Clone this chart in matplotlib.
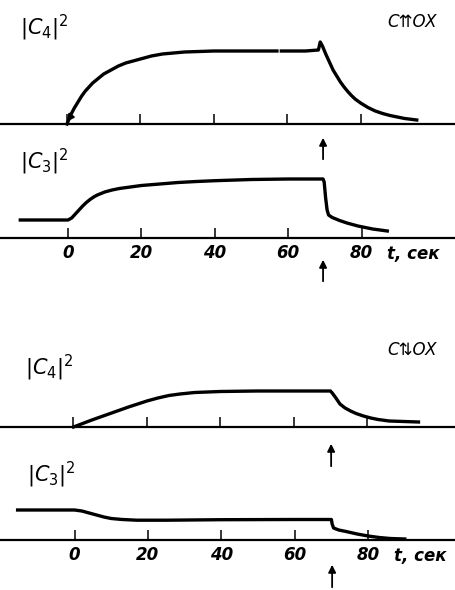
"""Two pairs of time traces |C4|^2 and |C3|^2 (scanned figure redrawn)."""

import numpy as np
from matplotlib import pyplot as plt

nan = np.nan

# upper pair (C upup OX)
c4a_t = [0, 1, 2, 3, 4, 5, 6, 7, 8, 9, 10, 12, 14, 16, 18, 20, 23, 26, 29, 32, 36, 40, 50, 57.2,
         nan, 58.4, 65, 68.5, 69, 69.6, 70.5, 71.5, 72.5, 73.5, 74.5, 75.5, 76.5, 77.5, 78.5, 80, 82, 84, 86,
         88, 90, 92, 95.3]
c4a_v = [0, 9, 16, 22, 28, 33, 37, 41, 44, 47, 50, 54, 58, 61, 63, 65, 68, 70, 71, 72, 72.5, 73, 73, 73,
         nan, 73, 73, 74, 82, 78, 70, 62, 54, 48, 42, 37, 32.5, 28.5, 25, 21, 16.5, 13, 10.5,
         8.5, 7, 5.5, 4]
c3a_t = [-13, -5, 0, 1, 2, 3, 4, 5, 6, 7, 8, 9, 10, 12, 14, 17, 20, 25, 30, 35, 40, 50, 60, 69.5,
         69.8, 70.2, 70.6, 71, 72, 74, 76, 79, 83, 87]
c3a_v = [18, 18, 18, 20, 24, 28, 32, 35.5, 38.5, 41, 43, 44.5, 46, 48, 49.5, 51, 52.5, 54, 55.5, 56.5, 57.3, 58.5, 59, 59,
         56, 40, 28, 23, 20.5, 17.5, 15, 12, 9, 7]

# lower pair (C updown OX)
c4b_t = [0, 5, 10, 15, 20, 23, 26, 29, 33, 40, 50, 70, 70.5, 71.5, 72.6, 74, 75.5, 77, 79, 81, 83, 86, 90, 94]
c4b_v = [0, 7, 13.5, 20, 26, 29, 31.5, 33, 34.5, 35.5, 36, 36, 34, 29, 23, 19, 16, 13.5, 11, 9, 7.5, 6, 5.5, 5]
c3b_t = [-15.5, 0, 2, 4, 6, 8, 10, 13, 17, 25, 40, 60, 70, 70.2, 70.6, 72, 74, 77, 80, 83, 86, 90]
c3b_v = [30, 30, 29, 27, 25, 23, 21.5, 20.5, 19.8, 19.8, 20.3, 20.5, 20.5, 16, 12, 10, 8.5, 6, 4, 2.5, 1.5, 1]

ticks = [0, 20, 40, 60, 80]
tick_labels = ['0', '20', '40', '60', '80']
arrow_t = [69.5, 70.2]

W, H = 455, 590
S = 3.67  # pixels per second

fig = plt.figure(figsize=(W / 100, H / 100), dpi=100)


def panel(top, bottom, base, x0, labels):
    ax = fig.add_axes([0, 1 - bottom / H, 1, (bottom - top) / H])
    ax.set_xlim(-x0 / S, (W - x0) / S)
    ax.set_ylim(-(bottom - base), base - top)
    for side in ['top', 'left', 'right']:
        ax.spines[side].set_visible(False)
    ax.spines['bottom'].set_position(('data', 0))
    ax.spines['bottom'].set_linewidth(1.6)
    ax.set_yticks([])
    ax.set_xticks(ticks)
    ax.tick_params(axis='x', direction='in', length=7, width=1.1, pad=4)
    if labels:
        ax.set_xticklabels(tick_labels, fontsize=12, fontstyle='italic', fontweight='bold')
    else:
        ax.set_xticklabels([])
    ax.patch.set_visible(False)
    return ax


ax1 = panel(0, 140, 124, 67, False)
ax2 = panel(140, 300, 238, 68, True)
ax3 = panel(300, 450, 427, 73.5, False)
ax4 = panel(450, 590, 540, 74.5, True)

lw = 2.4
ax1.plot(c4a_t, c4a_v, color='black', lw=lw, solid_joinstyle='round')
ax2.plot(c3a_t, c3a_v, color='black', lw=lw, solid_joinstyle='round')
ax3.plot(c4b_t, c4b_v, color='black', lw=lw, solid_joinstyle='round')
ax4.plot(c3b_t, c3b_v, color='black', lw=lw, solid_joinstyle='round')

# small arrow head at the start of the upper curve
ax1.annotate('', xy=(-0.5, 0), xytext=(1.5, 10),
             arrowprops=dict(arrowstyle='-|>', color='black', lw=1.5, mutation_scale=10))

# switching arrows
arr = dict(arrowstyle='-|>', color='black', lw=1.3, mutation_scale=11)
ax2.annotate('', xy=(arrow_t[0], 103), xytext=(arrow_t[0], 76), arrowprops=arr, annotation_clip=False)
ax2.annotate('', xy=(arrow_t[0], -19), xytext=(arrow_t[0], -46), arrowprops=arr, annotation_clip=False)
ax3.annotate('', xy=(arrow_t[1], -14), xytext=(arrow_t[1], -42), arrowprops=arr, annotation_clip=False)
ax4.annotate('', xy=(arrow_t[1], -22), xytext=(arrow_t[1], -50), arrowprops=arr, annotation_clip=False)

# labels
lab = dict(fontsize=15, color='black', ha='left', va='center')
fig.text(20 / W, 1 - 28 / H, r'$|C_4|^2$', **lab)
fig.text(20 / W, 1 - 162 / H, r'$|C_3|^2$', **lab)
fig.text(25 / W, 1 - 368 / H, r'$|C_4|^2$', **lab)
fig.text(27 / W, 1 - 475 / H, r'$|C_3|^2$', **lab)

name = dict(fontsize=12, fontstyle='italic', ha='left', va='center')
fig.text(387 / W, 1 - 22 / H, 'C⇈OX', **name)
fig.text(387 / W, 1 - 350 / H, 'C⇅OX', **name)

tl = dict(fontsize=12, fontstyle='italic', fontweight='bold', ha='left', va='top')
ax2.text(87, -7, 't, сек', **tl)
ax4.text(87, -7, 't, сек', **tl)

plt.savefig('out.png', dpi=100)
